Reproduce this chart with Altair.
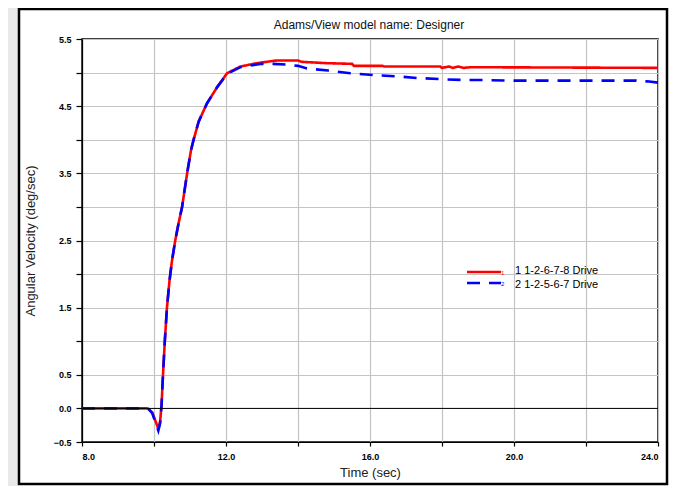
import altair as alt
import pandas as pd

# ---- data ----
red_t = [8.0, 9.8, 9.85, 9.95, 10.05, 10.12, 10.17, 10.21, 10.25, 10.3, 10.36, 10.43, 10.5, 10.59,
         10.68, 10.78, 10.92, 11.03, 11.1, 11.24, 11.47, 11.75, 12.03, 12.4, 12.86, 13.4, 14.0,
         14.1, 14.8, 15.5, 15.55, 16.35, 16.4, 17.95, 18.0, 18.2, 18.3, 18.45, 18.6, 18.8, 24.0]
red_v = [0.0, 0.0, -0.01, -0.06, -0.2, -0.3, -0.2, 0.05, 0.5, 1.0, 1.5, 1.9, 2.2, 2.5,
         2.75, 3.0, 3.5, 3.85, 4.0, 4.27, 4.54, 4.78, 4.99, 5.09, 5.14, 5.18, 5.18,
         5.16, 5.14, 5.13, 5.10, 5.10, 5.09, 5.09, 5.07, 5.09, 5.07, 5.09, 5.07, 5.08, 5.07]

blue_t = [8.0, 9.8, 9.85, 9.95, 10.05, 10.12, 10.17, 10.21, 10.25, 10.3, 10.36, 10.43, 10.5, 10.59,
          10.68, 10.78, 10.92, 11.03, 11.1, 11.24, 11.47, 11.75, 12.03, 12.4, 12.95, 13.3, 13.7,
          14.0, 14.25, 14.84, 15.45, 16.2, 16.84, 17.3, 18.04, 18.6, 19.06, 20.0, 23.4, 23.55, 23.7, 24.0]
blue_v = [0.0, 0.0, -0.01, -0.07, -0.22, -0.33, -0.22, 0.05, 0.5, 1.0, 1.5, 1.9, 2.2, 2.5,
          2.75, 3.0, 3.5, 3.85, 4.0, 4.27, 4.54, 4.78, 4.98, 5.08, 5.13, 5.13, 5.12,
          5.10, 5.06, 5.03, 4.99, 4.96, 4.94, 4.92, 4.90, 4.89, 4.89, 4.88, 4.88, 4.86, 4.87, 4.85]

series_names = ["1 1-2-6-7-8 Drive", "2 1-2-5-6-7 Drive"]
series_ids = ["1", "2"]
series_colors = ["#ff0000", "#0000ff"]
series_dash = [[1, 0], [13, 9]]

x_ticks = [8, 10, 12, 14, 16, 18, 20, 22, 24]
y_ticks = [-0.5, 0.0, 0.5, 1.0, 1.5, 2.0, 2.5, 3.0, 3.5, 4.0, 4.5, 5.0, 5.5]

title_text = "Adams/View model name: Designer"
x_title = "Time (sec)"
y_title = "Angular Velocity (deg/sec)"

# ---- tables ----
df = pd.concat([
    pd.DataFrame({"t": red_t, "v": red_v, "series": series_names[0]}),
    pd.DataFrame({"t": blue_t, "v": blue_v, "series": series_names[1]}),
], ignore_index=True)
df["order"] = df["series"].map({series_names[0]: 0, series_names[1]: 1})

xs = alt.Scale(domain=[8, 24], nice=False, zero=False)
ys = alt.Scale(domain=[-0.5, 5.5], nice=False, zero=False)

x_axis = alt.Axis(values=x_ticks,
                  labelExpr="datum.value % 4 == 0 ? format(datum.value, '.1f') : ''",
                  tickSize=4, labelPadding=6, titlePadding=5)
y_axis = alt.Axis(values=y_ticks,
                  labelExpr="(datum.value == 0 || abs(datum.value % 1) == 0.5) ? format(datum.value, '.1f') : ''",
                  tickSize=6, labelPadding=5, titlePadding=16)

W, H = 576, 403
one = pd.DataFrame({"k": [0]})

# decorative window frame around the plot
side = alt.Chart(one).mark_rect(fill="#e9e9e9").encode(
    x=alt.value(-74), x2=alt.value(-64), y=alt.value(-31), y2=alt.value(447)
)
frame = alt.Chart(one).mark_rect(
    fill=None, stroke="black", strokeWidth=2.5
).encode(
    x=alt.value(-63), x2=alt.value(585), y=alt.value(-30), y2=alt.value(445)
)
title = alt.Chart(one).mark_text(
    text=title_text, font="Liberation Sans", fontSize=12, color="#111", baseline="middle"
).encode(x=alt.value(W / 2 - 1), y=alt.value(-14))

lines = alt.Chart(df).mark_line(strokeWidth=2.6, interpolate="linear").encode(
    x=alt.X("t:Q", scale=xs, title=x_title, axis=x_axis),
    y=alt.Y("v:Q", scale=ys, title=y_title, axis=y_axis),
    color=alt.Color("series:N", scale=alt.Scale(domain=series_names, range=series_colors),
                    legend=None),
    strokeDash=alt.StrokeDash("series:N", scale=alt.Scale(domain=series_names, range=series_dash),
                              legend=None),
    order=alt.Order("order:Q"),
)

zero = alt.Chart(pd.DataFrame({"v": [0.0]})).mark_rule(
    color="black", strokeWidth=1
).encode(y=alt.Y("v:Q", scale=ys, title=y_title, axis=y_axis))

# hand-drawn legend (Adams style: short line + label)
legend_layers = []
sym_y = [233, 244]
txt_y = [232, 245.5]
for i, name in enumerate(series_names):
    legend_layers.append(
        alt.Chart(one).mark_rule(color=series_colors[i], strokeWidth=2.5,
                                 strokeDash=series_dash[i]).encode(
            x=alt.value(385), x2=alt.value(419), y=alt.value(sym_y[i]))
    )
    legend_layers.append(
        alt.Chart(one).mark_text(text=series_ids[i], color=series_colors[i], fontSize=6,
                                 font="Liberation Sans", align="left", baseline="middle").encode(
            x=alt.value(419), y=alt.value(sym_y[i] + 1))
    )
    legend_layers.append(
        alt.Chart(one).mark_text(text=name, color="black", fontSize=11,
                                 font="Liberation Sans", align="left", baseline="middle").encode(
            x=alt.value(433), y=alt.value(txt_y[i]))
    )

chart = alt.layer(side, frame, lines, zero, title, *legend_layers).properties(
    width=W, height=H,
    autosize=alt.AutoSizeParams(type="none"),
    padding={"left": 74, "top": 31, "right": 11, "bottom": 44},
    background="white",
).configure_view(
    stroke="black", strokeWidth=1.5
).configure_axis(
    gridColor="#c4c4c4", gridWidth=1.2, gridOpacity=1,
    domainColor="black", domainWidth=1.2,
    tickColor="black", tickWidth=1.2,
    labelFont="Liberation Sans", labelFontSize=9, labelFontWeight="bold", labelColor="black",
    titleFont="Liberation Sans", titleFontSize=13, titleFontWeight="normal", titleColor="#222",
)

chart.save("out.html", embed_options={"renderer": "svg", "actions": False})
